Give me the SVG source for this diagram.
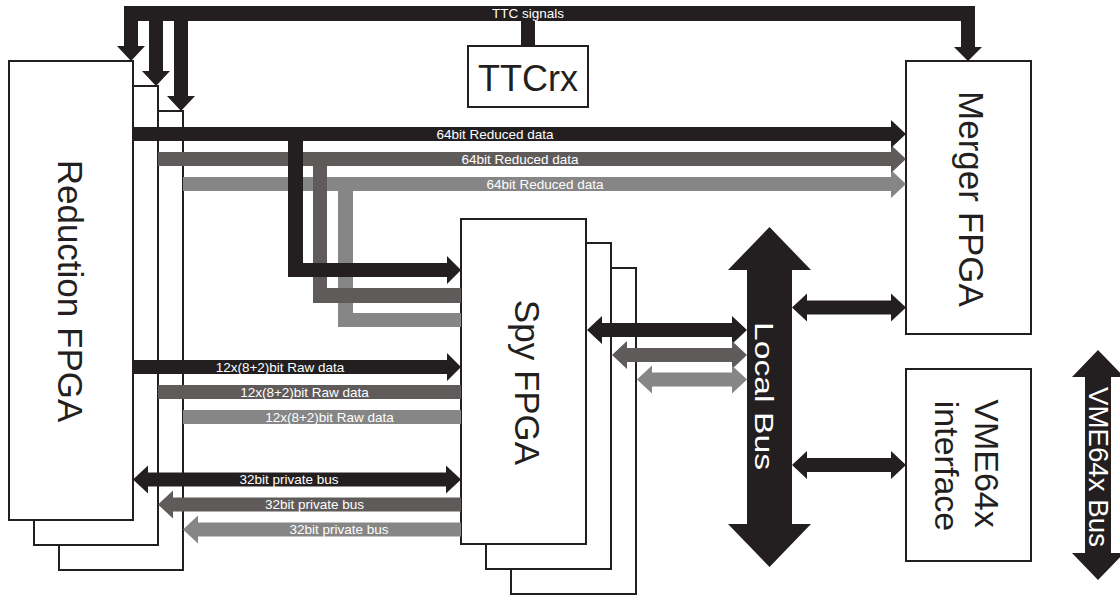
<svg xmlns="http://www.w3.org/2000/svg" width="1120" height="597" viewBox="0 0 1120 597">
<style>
.box{fill:#fff;stroke:#231f20;stroke-width:2}
.k{fill:#231f20}
.d{fill:#605b5b}
.l{fill:#868686}
.big{font-family:"Liberation Sans",Arial,sans-serif;fill:#231f20;text-anchor:middle}
.lab{font-family:"Liberation Sans",Arial,sans-serif;font-size:13.5px;fill:#fff;text-anchor:middle}
.wbig{font-family:"Liberation Sans",Arial,sans-serif;fill:#fff;text-anchor:middle}
</style>
<rect width="1120" height="597" fill="#fff"/>
<g id="reduction-fpga">
<rect class="box" x="59" y="111" width="124" height="459"/>
<rect class="box" x="34" y="86" width="124" height="459"/>
<rect class="box" x="9" y="61" width="124" height="459"/>
<text class="big" font-size="35" transform="translate(58,291) rotate(90)">Reduction FPGA</text>
</g>
<g id="spy-fpga">
<rect class="box" x="511" y="268" width="125" height="326"/>
<rect class="box" x="486" y="243" width="125" height="326"/>
<rect class="box" x="461" y="219" width="125" height="325"/>
<text class="big" font-size="35" transform="translate(515,382.5) rotate(90)">Spy FPGA</text>
</g>
<g id="ttcrx">
<rect class="box" x="468" y="46" width="120" height="61"/>
<text class="big" font-size="36" x="528" y="91">TTCrx</text>
</g>
<g id="merger-fpga">
<rect class="box" x="906" y="61" width="125" height="273"/>
<text class="big" font-size="35" transform="translate(959,199) rotate(90)">Merger FPGA</text>
</g>
<g id="vme-interface">
<rect class="box" x="906" y="369" width="125" height="192"/>
<text class="big" font-size="34" transform="translate(975,463.5) rotate(90)">VME64x</text>
<text class="big" font-size="34" transform="translate(935,466) rotate(90)">interface</text>
</g>
<g id="connectors">
<!-- TTC signals -->
<path class="k" d="M124,6 H975 V47 H982 L968,61 L954,47 H961 V21 H188 V96 H195 L181,111 L167,96 H174 V21 H163 V71 H170 L156,86 L142,71 H149 V21 H138 V46 H145 L131,61 L117,46 H124 Z"/>
<rect class="k" x="521" y="20" width="14" height="26"/>
<text class="lab" x="528" y="17.5">TTC signals</text>
<!-- 64bit reduced data -->
<path class="l" d="M183,177 H891 V170 L906,184 L891,198 V191 H183 Z"/>
<path class="l" d="M338,190 V327 H461 V313 H353 V190 Z"/>
<path class="d" d="M158,152 H891 V145 L906,159 L891,173 V166 H158 Z"/>
<path class="d" d="M313,165 V303 H461 V288 H327 V165 Z"/>
<path class="k" d="M133,127 H891 V120 L906,134 L891,148 V141 H133 Z"/>
<path class="k" d="M288,140 V277 H447 V284 L461,270 L447,256 V263 H303 V140 Z"/>
<text class="lab" x="495" y="138.8">64bit Reduced data</text>
<text class="lab" x="520" y="163.8">64bit Reduced data</text>
<text class="lab" x="545" y="188.8">64bit Reduced data</text>
<!-- raw data -->
<path class="k" d="M133,360 H447 V353 L461,367 L447,381 V374 H133 Z"/>
<rect class="d" x="158" y="385" width="303" height="14"/>
<rect class="l" x="183" y="410" width="278" height="14"/>
<text class="lab" x="280" y="371.8">12x(8+2)bit Raw data</text>
<text class="lab" x="304.5" y="396.8">12x(8+2)bit Raw data</text>
<text class="lab" x="329.5" y="421.8">12x(8+2)bit Raw data</text>
<!-- private bus -->
<path class="k" d="M133,479.5 L148,465.5 V472.5 H446 V465.5 L461,479.5 L446,493.5 V486.5 H148 V493.5 Z"/>
<path class="d" d="M158,504.5 L173,490.5 V497.5 H461 V511.5 H173 V518.5 Z"/>
<path class="l" d="M183,529.5 L198,515.5 V522.5 H461 V536.5 H198 V543.5 Z"/>
<text class="lab" x="289" y="484.3">32bit private bus</text>
<text class="lab" x="314.5" y="509.3">32bit private bus</text>
<text class="lab" x="339" y="534.3">32bit private bus</text>
<!-- spy to local bus -->
<path class="k" d="M587,330 L602,316 V323 H732 V316 L747,330 L732,344 V337 H602 V344 Z"/>
<path class="d" d="M612,355 L627,341 V348 H732 V341 L747,355 L732,369 V362 H627 V369 Z"/>
<path class="l" d="M637,379.5 L652,365.5 V372.5 H732 V365.5 L747,379.5 L732,393.5 V386.5 H652 V393.5 Z"/>
<!-- local bus -->
<path class="k" d="M769.5,227 L811,270 H792 V524 H811 L769.5,567 L728,524 H747 V270 H728 Z"/>
<text class="wbig" font-size="26" textLength="148" lengthAdjust="spacingAndGlyphs" transform="translate(755,396) rotate(90)">Local Bus</text>
<!-- local bus to merger / vme -->
<path class="k" d="M792,307.5 L807,293.5 V300.5 H891 V293.5 L906,307.5 L891,321.5 V314.5 H807 V321.5 Z"/>
<path class="k" d="M792,465 L807,451 V458 H891 V451 L906,465 L891,479 V472 H807 V479 Z"/>
<!-- VME64x bus -->
<path class="k" d="M1098,350 L1124,377 H1111 V553 H1124 L1098,580 L1072,553 H1085 V377 H1072 Z"/>
<text class="wbig" font-size="28" textLength="160" lengthAdjust="spacingAndGlyphs" transform="translate(1089,467) rotate(90)">VME64x Bus</text>
</g>
</svg>
